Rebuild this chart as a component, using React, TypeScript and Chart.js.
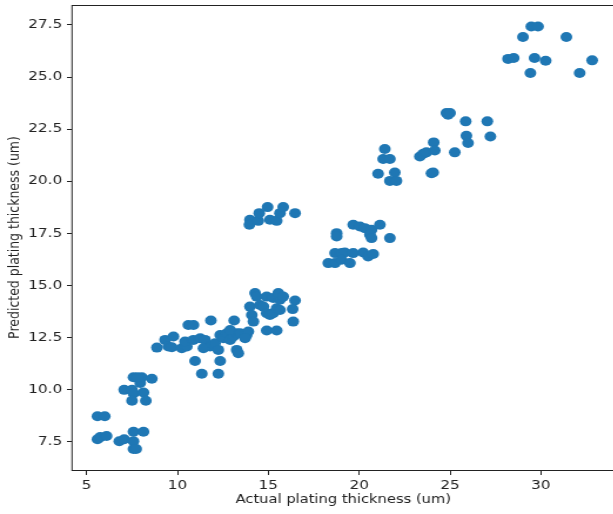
import React, { useEffect, useRef } from "react";
import { Chart, registerables } from "chart.js";

Chart.register(...registerables);

const actual: number[] = [
  5.6, 6.0, 5.6, 5.75, 6.1, 6.8, 7.07, 7.58, 7.58, 8.13, 7.58, 7.73,
  7.07, 7.5, 7.58, 8.13, 7.5, 8.26, 7.58, 8.04, 8.59, 7.95, 7.8,
  8.87, 9.32, 9.78, 9.5, 9.69, 10.24, 10.52, 10.42, 10.88, 10.6, 10.88,
  10.97, 11.34, 12.25, 11.84, 12.35, 11.25, 11.52, 11.8, 12.07, 12.25, 11.43,
  12.35, 12.53, 12.71, 12.9, 13.08, 13.27, 12.9, 13.12, 13.26, 13.35,
  13.45, 13.81, 13.9, 13.72, 14.27, 14.36, 13.99, 14.54, 14.09, 14.18,
  14.91, 15.27, 15.64, 15.55, 15.82, 14.73, 14.91, 15.09, 15.27, 15.46, 15.64,
  14.91, 15.46, 16.47, 16.34, 16.37,
  13.99, 13.96, 14.45, 14.5, 14.96, 15.09, 15.46, 15.64, 15.82, 16.47,
  19.67, 20.04, 20.31, 20.68, 21.14, 20.59, 20.68, 21.69, 18.76, 18.76,
  18.67, 19.03, 19.21, 19.67, 20.22, 20.49, 20.77, 18.3, 18.67, 19.03, 19.49,
  21.41, 21.32, 21.69, 21.04, 21.96, 21.69, 22.05, 23.34, 23.52, 23.7,
  24.1, 24.16, 23.98, 24.07, 24.8, 24.89, 25.0, 25.86, 27.05, 25.9, 25.99, 27.22, 25.26,
  29.47, 29.84, 29.01, 31.4, 28.19, 28.5, 29.65, 30.26, 29.42, 32.82, 32.13,
];

const predicted: number[] = [
  8.7, 8.7, 7.6, 7.7, 7.75, 7.5, 7.6, 7.5, 7.96, 7.96, 7.13, 7.13,
  9.97, 9.97, 9.8, 9.84, 9.45, 9.45, 10.58, 10.58, 10.5, 10.3, 10.58,
  12.0, 12.37, 12.53, 12.05, 12.02, 11.97, 12.05, 12.29, 12.37, 13.09, 13.09,
  11.36, 10.74, 10.74, 13.3, 11.36, 12.45, 12.37, 12.05, 12.21, 11.89, 11.97,
  12.61, 12.45, 12.69, 12.37, 12.53, 12.69, 12.85, 13.3, 11.89, 11.73,
  12.69, 12.61, 12.77, 12.45, 14.62, 14.45, 13.97, 14.05, 13.57, 13.25,
  14.45, 14.38, 14.3, 14.62, 14.45, 13.97, 13.65, 13.57, 13.65, 13.89, 13.81,
  12.82, 12.82, 14.26, 13.85, 13.25,
  18.14, 17.9, 18.09, 18.46, 18.75, 18.14, 18.09, 18.46, 18.75, 18.46,
  17.9, 17.82, 17.74, 17.66, 17.9, 17.42, 17.26, 17.26, 17.5, 17.34,
  16.54, 16.54, 16.57, 16.54, 16.57, 16.38, 16.5, 16.06, 16.06, 16.22, 16.06,
  21.54, 21.06, 21.06, 20.35, 20.41, 20.01, 20.01, 21.18, 21.31, 21.38,
  21.86, 21.47, 20.38, 20.41, 23.27, 23.19, 23.27, 22.87, 22.87, 22.18, 21.83, 22.14, 21.38,
  27.43, 27.43, 26.92, 26.92, 25.87, 25.91, 25.91, 25.78, 25.19, 25.8, 25.19,
];

const xTicks: number[] = [5, 10, 15, 20, 25, 30];
const yTicks: number[] = [7.5, 10.0, 12.5, 15.0, 17.5, 20.0, 22.5, 25.0, 27.5];

const xTitle = "Actual plating thickness (um)";
const yTitle = "Predicted plating thickness (um)";

const FONT = "'DejaVu Sans', sans-serif";
const FONT_SIZE = 12.5;
const TICK_FONT_SIZE = 13;
// the reference picture is stretched horizontally
const STRETCH = 1.175;

const framePlugin = {
  id: "frame",
  afterDatasetsDraw(chart: any) {
    const { ctx, chartArea } = chart;
    ctx.save();
    ctx.strokeStyle = "#222";
    ctx.lineWidth = 1;
    ctx.strokeRect(
      chartArea.left,
      Math.round(chartArea.top) + 0.5,
      chartArea.right - chartArea.left,
      Math.round(chartArea.bottom - chartArea.top)
    );
    ctx.restore();
  },
};

export default function App() {
  const ref = useRef<HTMLCanvasElement | null>(null);

  useEffect(() => {
    document.body.style.margin = "0";
    document.body.style.overflow = "hidden";
    const canvas = ref.current;
    if (!canvas) return;
    const points = actual.map((x, i) => ({ x, y: predicted[i] }));
    const chart = new Chart(canvas, {
      type: "scatter",
      data: {
        datasets: [
          {
            data: points,
            backgroundColor: "#1f77b4",
            borderWidth: 0,
            pointRadius: 5,
            pointHoverRadius: 5,
          },
        ],
      },
      plugins: [framePlugin],
      options: {
        animation: false,
        responsive: true,
        maintainAspectRatio: false,
        layout: { padding: { left: 0, right: 4.6, top: 5, bottom: 0 } },
        plugins: {
          legend: { display: false },
          tooltip: { enabled: false },
        },
        scales: {
          x: {
            type: "linear",
            min: 4.2,
            max: 34.05,
            afterFit: (s: any) => {
              s.height = 44;
              s.paddingLeft = 0;
              s.paddingRight = 0;
            },
            afterBuildTicks: (s: any) => {
              s.ticks = xTicks.map((v) => ({ value: v }));
            },
            border: { display: false },
            grid: {
              drawOnChartArea: false,
              drawTicks: true,
              tickLength: 5,
              color: "#222",
            },
            ticks: {
              color: "#222",
              padding: 3,
              font: { family: FONT, size: TICK_FONT_SIZE },
              callback: (v: any) => String(v),
            },
            title: {
              display: true,
              text: xTitle,
              color: "#222",
              font: { family: FONT, size: FONT_SIZE },
              padding: { top: 0, bottom: 6.5 },
            },
          },
          y: {
            type: "linear",
            min: 6.12,
            max: 28.46,
            afterFit: (s: any) => {
              s.width = 61.3;
              s.paddingTop = 0;
              s.paddingBottom = 0;
            },
            afterBuildTicks: (s: any) => {
              s.ticks = yTicks.map((v) => ({ value: v }));
            },
            border: { display: false },
            grid: {
              drawOnChartArea: false,
              drawTicks: true,
              tickLength: 4.3,
              color: "#222",
            },
            ticks: {
              color: "#222",
              padding: 4,
              font: { family: FONT, size: TICK_FONT_SIZE },
              callback: (v: any) => Number(v).toFixed(1),
            },
            title: {
              display: true,
              text: yTitle,
              color: "#222",
              font: { family: FONT, size: FONT_SIZE },
              padding: { top: 5.3, bottom: 0 },
            },
          },
        },
      },
    });
    return () => chart.destroy();
  }, []);

  return (
    <div
      style={{
        position: "fixed",
        left: 0,
        top: 0,
        width: 528,
        height: 514,
        transform: `scaleX(${STRETCH})`,
        transformOrigin: "0 0",
      }}
    >
      <canvas ref={ref} />
    </div>
  );
}
